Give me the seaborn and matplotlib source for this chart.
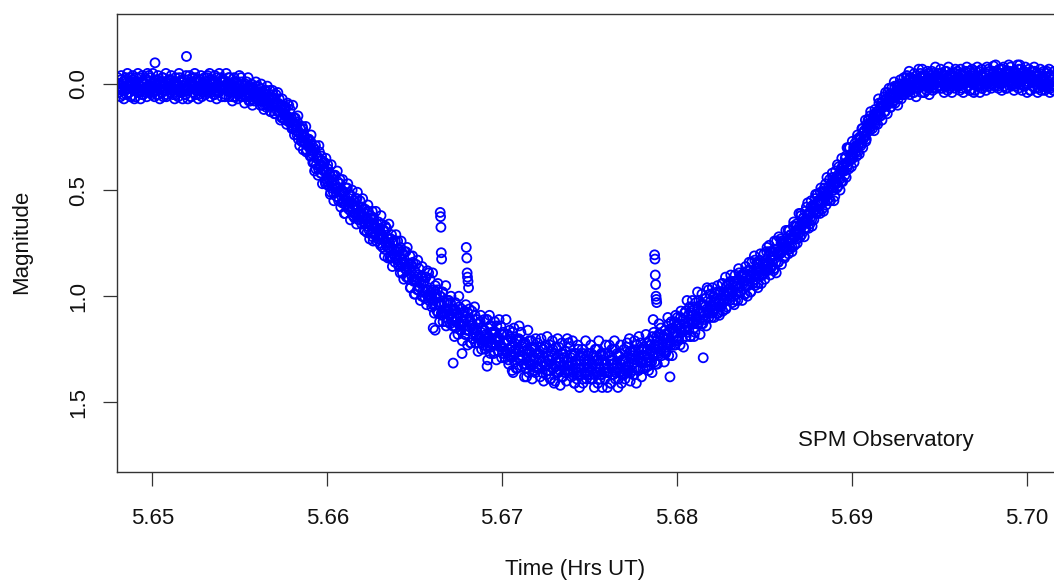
import matplotlib
matplotlib.use("Agg")
import matplotlib.pyplot as plt
import pandas as pd
import seaborn as sns

# ---- data (time in hours UT, magnitude) ----
# samples A
t_pre = [
5.64800,5.64805,5.64810,5.64815,5.64820,5.64825,5.64830,5.64835,5.64840,5.64845,5.64850,5.64855,5.64860,5.64865,5.64870,5.64875,5.64880,5.64885,5.64890,5.64895,
5.64900,5.64905,5.64910,5.64915,5.64920,5.64925,5.64930,5.64935,5.64940,5.64945,5.64950,5.64955,5.64960,5.64965,5.64970,5.64975,5.64980,5.64985,5.64990,5.64995,
5.65000,5.65005,5.65010,5.65015,5.65020,5.65025,5.65030,5.65035,5.65040,5.65045,5.65050,5.65055,5.65060,5.65065,5.65070,5.65075,5.65080,5.65085,5.65090,5.65095,
5.65100,5.65105,5.65110,5.65115,5.65120,5.65125,5.65130,5.65135,5.65140,5.65145,5.65150,5.65155,5.65160,5.65165,5.65170,5.65175,5.65180,5.65185,5.65190,5.65195,
5.65200,5.65205,5.65210,5.65215,5.65220,5.65225,5.65230,5.65235,5.65240,5.65245,5.65250,5.65255,5.65260,5.65265,5.65270,5.65275,5.65280,5.65285,5.65290,5.65295,
5.65300,5.65305,5.65310,5.65315,5.65320,5.65325,5.65330,5.65335,5.65340,5.65345,5.65350,5.65355,5.65360,5.65365,5.65370,5.65375,5.65380,5.65385,5.65390,5.65395,
5.65400,5.65405,5.65410,5.65415,5.65420,5.65425,5.65430,5.65435,5.65440,5.65445,5.65450,5.65455,5.65460,5.65465,5.65470,5.65475,5.65480,5.65485,5.65490,5.65495,
5.65500,5.65505,5.65510,5.65515,5.65520,5.65525,5.65530,5.65535,5.65540,5.65545,5.65550,5.65555,5.65560,5.65565,5.65570,5.65575,5.65580,5.65585,5.65590,5.65595]
m_pre = [
0.03,0.00,0.04,0.01,-0.02,0.02,0.05,-0.01,0.01,0.03,-0.03,0.02,0.04,0.00,0.01,0.06,-0.01,0.02,-0.02,0.03,
-0.01,0.02,0.01,0.04,0.00,-0.03,0.03,0.01,0.05,-0.01,0.02,0.00,0.04,-0.02,0.01,0.03,-0.04,0.02,0.03,0.00,
0.02,0.04,-0.01,-0.10,0.03,0.00,-0.02,0.05,0.02,-0.01,0.01,0.04,-0.03,0.03,0.00,0.02,0.06,-0.01,0.01,-0.02,
0.01,-0.02,0.03,0.02,0.00,0.04,-0.01,0.05,0.01,0.00,0.03,-0.03,0.02,0.04,-0.01,0.01,0.02,-0.02,0.05,-0.13,
0.03,-0.02,0.02,-0.01,0.06,0.01,0.00,0.04,0.02,-0.03,0.03,0.01,-0.01,0.05,0.02,-0.02,0.01,0.04,0.00,0.03,
0.00,0.03,0.02,-0.04,0.03,0.01,-0.02,0.04,0.00,0.02,-0.01,0.05,0.01,0.03,-0.03,0.00,0.04,0.01,0.02,-0.01,
-0.02,0.01,-0.01,0.06,0.02,0.00,0.03,-0.03,0.04,0.01,0.00,0.03,0.06,-0.01,0.01,0.04,0.02,0.00,0.05,0.03,
0.01,0.06,-0.01,0.03,0.03,0.01,0.06,0.04,-0.01,0.05,0.02,0.03,0.08,0.02,0.07,0.03,0.05,0.06,0.01,0.04]

t_ingress = [
5.65600,5.65605,5.65610,5.65615,5.65620,5.65625,5.65630,5.65635,5.65640,5.65645,5.65650,5.65655,5.65660,5.65665,5.65670,5.65675,5.65680,5.65685,5.65690,5.65695,
5.65700,5.65705,5.65710,5.65715,5.65720,5.65725,5.65730,5.65735,5.65740,5.65745,5.65750,5.65755,5.65760,5.65765,5.65770,5.65775,5.65780,5.65785,5.65790,5.65795,
5.65800,5.65805,5.65810,5.65815,5.65820,5.65825,5.65830,5.65835,5.65840,5.65845,5.65850,5.65855,5.65860,5.65865,5.65870,5.65875,5.65880,5.65885,5.65890,5.65895,
5.65900,5.65905,5.65910,5.65915,5.65920,5.65925,5.65930,5.65935,5.65940,5.65945,5.65950,5.65955,5.65960,5.65965,5.65970,5.65975,5.65980,5.65985,5.65990,5.65995,
5.66000,5.66005,5.66010,5.66015,5.66020,5.66025,5.66030,5.66035,5.66040,5.66045,5.66050,5.66055,5.66060,5.66065,5.66070,5.66075,5.66080,5.66085,5.66090,5.66095,
5.66100,5.66105,5.66110,5.66115,5.66120,5.66125,5.66130,5.66135,5.66140,5.66145,5.66150,5.66155,5.66160,5.66165,5.66170,5.66175,5.66180,5.66185,5.66190,5.66195,
5.66200,5.66205,5.66210,5.66215,5.66220,5.66225,5.66230,5.66235,5.66240,5.66245,5.66250,5.66255,5.66260,5.66265,5.66270,5.66275,5.66280,5.66285,5.66290,5.66295,
5.66300,5.66305,5.66310,5.66315,5.66320,5.66325,5.66330,5.66335,5.66340,5.66345,5.66350,5.66355,5.66360,5.66365,5.66370,5.66375,5.66380,5.66385,5.66390,5.66395,
5.66400,5.66405,5.66410,5.66415,5.66420,5.66425,5.66430,5.66435,5.66440,5.66445,5.66450,5.66455,5.66460,5.66465,5.66470,5.66475,5.66480,5.66485,5.66490,5.66495,
5.66500,5.66505,5.66510,5.66515,5.66520,5.66525,5.66530,5.66535,5.66540,5.66545,5.66550,5.66555,5.66560,5.66565,5.66570,5.66575,5.66580,5.66585,5.66590,5.66595,
5.66600,5.66605,5.66610,5.66615,5.66620,5.66625,5.66630,5.66635,5.66640,5.66645,5.66650,5.66655,5.66660,5.66665,5.66670,5.66675,5.66680,5.66685,5.66690,5.66695,
5.66700,5.66705,5.66710,5.66715,5.66720,5.66725,5.66730,5.66735,5.66740,5.66745,5.66750,5.66755,5.66760,5.66765,5.66770,5.66775,5.66780,5.66785,5.66790,5.66795,
5.66800,5.66805,5.66810,5.66815,5.66820,5.66825,5.66830,5.66835,5.66840,5.66845,5.66850,5.66855,5.66860,5.66865,5.66870,5.66875,5.66880,5.66885,5.66890,5.66895,
5.66900,5.66905,5.66910,5.66915,5.66920,5.66925,5.66930,5.66935,5.66940,5.66945,5.66950,5.66955,5.66960,5.66965,5.66970,5.66975,5.66980,5.66985,5.66990,5.66995]
m_ingress = [
0.07,0.04,0.08,0.05,0.02,0.07,0.10,0.04,0.06,0.08,0.03,0.08,0.10,0.06,0.07,0.13,0.06,0.09,0.05,0.10,
0.07,0.10,0.09,0.13,0.09,0.07,0.13,0.12,0.16,0.10,0.14,0.12,0.17,0.11,0.15,0.17,0.10,0.17,0.18,0.16,
0.18,0.21,0.16,0.19,0.22,0.19,0.18,0.26,0.23,0.21,0.24,0.27,0.21,0.27,0.25,0.28,0.32,0.26,0.29,0.26,
0.30,0.27,0.34,0.33,0.32,0.37,0.31,0.40,0.35,0.35,0.40,0.32,0.39,0.42,0.36,0.40,0.41,0.37,0.47,0.41,
0.46,0.40,0.45,0.42,0.51,0.46,0.45,0.51,0.48,0.43,0.51,0.49,0.46,0.55,0.51,0.47,0.51,0.56,0.51,0.56,
0.53,0.57,0.55,0.49,0.58,0.56,0.52,0.60,0.56,0.58,0.55,0.63,0.58,0.62,0.54,0.59,0.64,0.60,0.62,0.58,
0.58,0.62,0.59,0.69,0.64,0.63,0.67,0.60,0.69,0.65,0.63,0.67,0.72,0.63,0.67,0.71,0.68,0.66,0.73,0.71,
0.68,0.76,0.66,0.73,0.72,0.69,0.78,0.75,0.68,0.77,0.73,0.75,0.82,0.73,0.82,0.75,0.80,0.81,0.74,0.79,
0.83,0.78,0.86,0.81,0.77,0.84,0.89,0.80,0.84,0.87,0.79,0.88,0.91,0.85,0.87,0.96,0.85,0.91,0.84,0.93,
0.88,0.93,0.91,0.97,0.90,0.87,0.96,0.94,1.00,0.91,0.97,0.93,1.01,0.91,0.97,1.00,0.89,1.00,1.01,0.97,
1.01,1.04,0.97,1.00,1.04,0.99,0.97,1.08,1.04,1.00,1.03,1.09,0.98,1.08,1.03,1.07,1.14,1.03,1.07,1.02,
1.08,1.03,1.11,1.10,1.07,1.14,1.06,1.15,1.10,1.08,1.13,1.05,1.13,1.16,1.08,1.12,1.14,1.07,1.18,1.11,
1.16,1.08,1.16,1.11,1.22,1.14,1.13,1.20,1.17,1.09,1.19,1.16,1.13,1.22,1.19,1.12,1.17,1.22,1.16,1.21,
1.16,1.21,1.20,1.11,1.22,1.19,1.14,1.24,1.17,1.22,1.17,1.26,1.20,1.23,1.14,1.19,1.26,1.21,1.23,1.18]

t_minimum = [
5.67000,5.67005,5.67010,5.67015,5.67020,5.67025,5.67030,5.67035,5.67040,5.67045,5.67050,5.67055,5.67060,5.67065,5.67070,5.67075,5.67080,5.67085,5.67090,5.67095,
5.67100,5.67105,5.67110,5.67115,5.67120,5.67125,5.67130,5.67135,5.67140,5.67145,5.67150,5.67155,5.67160,5.67165,5.67170,5.67175,5.67180,5.67185,5.67190,5.67195,
5.67200,5.67205,5.67210,5.67215,5.67220,5.67225,5.67230,5.67235,5.67240,5.67245,5.67250,5.67255,5.67260,5.67265,5.67270,5.67275,5.67280,5.67285,5.67290,5.67295,
5.67300,5.67305,5.67310,5.67315,5.67320,5.67325,5.67330,5.67335,5.67340,5.67345,5.67350,5.67355,5.67360,5.67365,5.67370,5.67375,5.67380,5.67385,5.67390,5.67395,
5.67400,5.67405,5.67410,5.67415,5.67420,5.67425,5.67430,5.67435,5.67440,5.67445,5.67450,5.67455,5.67460,5.67465,5.67470,5.67475,5.67480,5.67485,5.67490,5.67495,
5.67500,5.67505,5.67510,5.67515,5.67520,5.67525,5.67530,5.67535,5.67540,5.67545,5.67550,5.67555,5.67560,5.67565,5.67570,5.67575,5.67580,5.67585,5.67590,5.67595,
5.67600,5.67605,5.67610,5.67615,5.67620,5.67625,5.67630,5.67635,5.67640,5.67645,5.67650,5.67655,5.67660,5.67665,5.67670,5.67675,5.67680,5.67685,5.67690,5.67695,
5.67700,5.67705,5.67710,5.67715,5.67720,5.67725,5.67730,5.67735,5.67740,5.67745,5.67750,5.67755,5.67760,5.67765,5.67770,5.67775,5.67780,5.67785,5.67790,5.67795]
m_minimum = [
1.24,1.27,1.18,1.22,1.26,1.21,1.18,1.30,1.25,1.19,1.24,1.29,1.17,1.28,1.22,1.27,1.34,1.21,1.25,1.20,
1.26,1.21,1.30,1.28,1.24,1.32,1.23,1.34,1.27,1.25,1.31,1.21,1.30,1.33,1.24,1.28,1.30,1.24,1.36,1.27,
1.33,1.27,1.34,1.29,1.24,1.31,1.36,1.25,1.29,1.33,1.23,1.32,1.35,1.28,1.30,1.39,1.26,1.32,1.25,1.34,
1.27,1.33,1.31,1.36,1.29,1.24,1.35,1.31,1.38,1.27,1.33,1.29,1.36,1.26,1.31,1.35,1.22,1.33,1.35,1.29,
1.27,1.32,1.28,1.41,1.34,1.30,1.36,1.25,1.37,1.32,1.28,1.34,1.39,1.27,1.30,1.36,1.32,1.28,1.37,1.34,
1.30,1.39,1.27,1.34,1.32,1.28,1.37,1.34,1.25,1.36,1.30,1.32,1.39,1.28,1.37,1.30,1.34,1.36,1.27,1.32,
1.36,1.27,1.34,1.28,1.41,1.32,1.30,1.37,1.34,1.25,1.36,1.32,1.28,1.39,1.34,1.27,1.32,1.37,1.30,1.36,
1.30,1.35,1.33,1.22,1.35,1.31,1.26,1.36,1.29,1.32,1.26,1.37,1.30,1.34,1.23,1.28,1.35,1.29,1.31,1.25]

t_egress = [
5.67800,5.67805,5.67810,5.67815,5.67820,5.67825,5.67830,5.67835,5.67840,5.67845,5.67850,5.67855,5.67860,5.67865,5.67870,5.67875,5.67880,5.67885,5.67890,5.67895,
5.67900,5.67905,5.67910,5.67915,5.67920,5.67925,5.67930,5.67935,5.67940,5.67945,5.67950,5.67955,5.67960,5.67965,5.67970,5.67975,5.67980,5.67985,5.67990,5.67995,
5.68000,5.68005,5.68010,5.68015,5.68020,5.68025,5.68030,5.68035,5.68040,5.68045,5.68050,5.68055,5.68060,5.68065,5.68070,5.68075,5.68080,5.68085,5.68090,5.68095,
5.68100,5.68105,5.68110,5.68115,5.68120,5.68125,5.68130,5.68135,5.68140,5.68145,5.68150,5.68155,5.68160,5.68165,5.68170,5.68175,5.68180,5.68185,5.68190,5.68195,
5.68200,5.68205,5.68210,5.68215,5.68220,5.68225,5.68230,5.68235,5.68240,5.68245,5.68250,5.68255,5.68260,5.68265,5.68270,5.68275,5.68280,5.68285,5.68290,5.68295,
5.68300,5.68305,5.68310,5.68315,5.68320,5.68325,5.68330,5.68335,5.68340,5.68345,5.68350,5.68355,5.68360,5.68365,5.68370,5.68375,5.68380,5.68385,5.68390,5.68395,
5.68400,5.68405,5.68410,5.68415,5.68420,5.68425,5.68430,5.68435,5.68440,5.68445,5.68450,5.68455,5.68460,5.68465,5.68470,5.68475,5.68480,5.68485,5.68490,5.68495,
5.68500,5.68505,5.68510,5.68515,5.68520,5.68525,5.68530,5.68535,5.68540,5.68545,5.68550,5.68555,5.68560,5.68565,5.68570,5.68575,5.68580,5.68585,5.68590,5.68595,
5.68600,5.68605,5.68610,5.68615,5.68620,5.68625,5.68630,5.68635,5.68640,5.68645,5.68650,5.68655,5.68660,5.68665,5.68670,5.68675,5.68680,5.68685,5.68690,5.68695,
5.68700,5.68705,5.68710,5.68715,5.68720,5.68725,5.68730,5.68735,5.68740,5.68745,5.68750,5.68755,5.68760,5.68765,5.68770,5.68775,5.68780,5.68785,5.68790,5.68795,
5.68800,5.68805,5.68810,5.68815,5.68820,5.68825,5.68830,5.68835,5.68840,5.68845,5.68850,5.68855,5.68860,5.68865,5.68870,5.68875,5.68880,5.68885,5.68890,5.68895,
5.68900,5.68905,5.68910,5.68915,5.68920,5.68925,5.68930,5.68935,5.68940,5.68945,5.68950,5.68955,5.68960,5.68965,5.68970,5.68975,5.68980,5.68985,5.68990,5.68995,
5.69000,5.69005,5.69010,5.69015,5.69020,5.69025,5.69030,5.69035,5.69040,5.69045,5.69050,5.69055,5.69060,5.69065,5.69070,5.69075,5.69080,5.69085,5.69090,5.69095,
5.69100,5.69105,5.69110,5.69115,5.69120,5.69125,5.69130,5.69135,5.69140,5.69145,5.69150,5.69155,5.69160,5.69165,5.69170,5.69175,5.69180,5.69185,5.69190,5.69195,
5.69200,5.69205,5.69210,5.69215,5.69220,5.69225,5.69230,5.69235,5.69240,5.69245,5.69250,5.69255,5.69260,5.69265,5.69270,5.69275,5.69280,5.69285,5.69290,5.69295,
5.69300,5.69305,5.69310,5.69315,5.69320,5.69325,5.69330,5.69335,5.69340,5.69345,5.69350,5.69355,5.69360,5.69365,5.69370,5.69375,5.69380,5.69385,5.69390,5.69395]
m_egress = [
1.31,1.34,1.25,1.28,1.31,1.26,1.22,1.33,1.29,1.23,1.26,1.31,1.19,1.28,1.23,1.27,1.32,1.21,1.24,1.18,
1.23,1.18,1.25,1.24,1.20,1.26,1.18,1.27,1.20,1.18,1.23,1.13,1.21,1.23,1.15,1.18,1.19,1.12,1.23,1.14,
1.19,1.14,1.20,1.15,1.10,1.16,1.20,1.11,1.13,1.16,1.07,1.14,1.17,1.09,1.11,1.19,1.07,1.12,1.05,1.12,
1.06,1.11,1.09,1.13,1.06,1.02,1.11,1.07,1.13,1.04,1.08,1.04,1.11,1.01,1.06,1.08,0.97,1.07,1.08,1.02,
1.05,1.08,1.00,1.03,1.06,1.01,0.98,1.08,1.02,0.98,1.01,1.04,0.94,1.03,0.98,1.00,1.06,0.95,0.98,0.94,
0.98,0.93,1.00,0.98,0.95,1.00,0.93,1.02,0.95,0.94,0.98,0.89,0.95,0.98,0.91,0.93,0.94,0.89,0.99,0.91,
0.95,0.88,0.92,0.88,0.98,0.90,0.89,0.94,0.90,0.83,0.92,0.88,0.85,0.94,0.88,0.83,0.87,0.90,0.85,0.89,
0.85,0.88,0.86,0.77,0.87,0.84,0.79,0.87,0.82,0.83,0.79,0.87,0.81,0.84,0.74,0.79,0.84,0.79,0.80,0.75,
0.74,0.78,0.75,0.82,0.77,0.74,0.77,0.69,0.78,0.73,0.71,0.73,0.77,0.67,0.70,0.72,0.70,0.67,0.73,0.69,
0.67,0.72,0.62,0.67,0.65,0.63,0.68,0.65,0.58,0.65,0.61,0.62,0.66,0.58,0.64,0.58,0.60,0.60,0.54,0.57,
0.59,0.55,0.60,0.55,0.51,0.55,0.59,0.51,0.53,0.54,0.47,0.52,0.55,0.49,0.50,0.55,0.47,0.49,0.44,0.50,
0.45,0.47,0.46,0.49,0.43,0.39,0.45,0.42,0.46,0.39,0.41,0.38,0.43,0.34,0.37,0.39,0.30,0.36,0.36,0.33,
0.34,0.35,0.30,0.31,0.32,0.29,0.26,0.32,0.28,0.25,0.26,0.28,0.21,0.26,0.22,0.24,0.27,0.19,0.20,0.17,
0.19,0.15,0.20,0.18,0.16,0.19,0.14,0.19,0.14,0.13,0.15,0.09,0.13,0.15,0.09,0.10,0.11,0.06,0.13,0.07,
0.10,0.04,0.08,0.05,0.11,0.06,0.05,0.08,0.06,0.01,0.06,0.04,0.02,0.07,0.04,0.00,0.02,0.05,0.01,0.03,
0.00,0.03,0.02,-0.04,0.03,0.00,-0.03,0.03,-0.01,0.01,-0.02,0.04,0.00,0.02,-0.04,-0.02,0.02,-0.01,0.00,-0.03]

t_post = [
5.69400,5.69405,5.69410,5.69415,5.69420,5.69425,5.69430,5.69435,5.69440,5.69445,5.69450,5.69455,5.69460,5.69465,5.69470,5.69475,5.69480,5.69485,5.69490,5.69495,
5.69500,5.69505,5.69510,5.69515,5.69520,5.69525,5.69530,5.69535,5.69540,5.69545,5.69550,5.69555,5.69560,5.69565,5.69570,5.69575,5.69580,5.69585,5.69590,5.69595,
5.69600,5.69605,5.69610,5.69615,5.69620,5.69625,5.69630,5.69635,5.69640,5.69645,5.69650,5.69655,5.69660,5.69665,5.69670,5.69675,5.69680,5.69685,5.69690,5.69695,
5.69700,5.69705,5.69710,5.69715,5.69720,5.69725,5.69730,5.69735,5.69740,5.69745,5.69750,5.69755,5.69760,5.69765,5.69770,5.69775,5.69780,5.69785,5.69790,5.69795,
5.69800,5.69805,5.69810,5.69815,5.69820,5.69825,5.69830,5.69835,5.69840,5.69845,5.69850,5.69855,5.69860,5.69865,5.69870,5.69875,5.69880,5.69885,5.69890,5.69895,
5.69900,5.69905,5.69910,5.69915,5.69920,5.69925,5.69930,5.69935,5.69940,5.69945,5.69950,5.69955,5.69960,5.69965,5.69970,5.69975,5.69980,5.69985,5.69990,5.69995,
5.70000,5.70005,5.70010,5.70015,5.70020,5.70025,5.70030,5.70035,5.70040,5.70045,5.70050,5.70055,5.70060,5.70065,5.70070,5.70075,5.70080,5.70085,5.70090,5.70095,
5.70100,5.70105,5.70110,5.70115,5.70120,5.70125,5.70130,5.70135,5.70140,5.70145,5.70150,5.70155,5.70160]
m_post = [
-0.04,-0.01,-0.03,0.04,0.00,-0.02,0.01,-0.05,0.02,-0.01,-0.04,-0.01,0.02,-0.05,-0.03,0.00,-0.02,-0.04,0.01,-0.01,
-0.03,0.02,-0.05,-0.01,-0.02,-0.04,0.01,-0.01,-0.06,0.00,-0.03,-0.02,0.02,-0.04,0.01,-0.03,-0.01,0.00,-0.05,-0.02,
0.00,-0.03,0.01,-0.02,-0.05,-0.01,0.02,-0.04,-0.02,0.00,-0.06,-0.01,0.01,-0.03,-0.02,0.03,-0.04,-0.01,-0.05,0.00,
-0.04,-0.01,-0.02,0.01,-0.03,-0.06,0.00,-0.02,0.02,-0.04,-0.01,-0.03,0.01,-0.05,-0.02,0.00,-0.07,-0.01,0.00,-0.03,
-0.02,0.00,-0.05,-0.03,-0.01,-0.04,-0.06,0.01,-0.02,-0.05,-0.03,0.00,-0.07,-0.01,-0.04,-0.02,0.02,-0.05,-0.03,-0.06,
-0.03,-0.06,-0.01,-0.02,-0.04,0.00,-0.05,0.01,-0.03,-0.04,-0.01,-0.07,-0.02,0.00,-0.05,-0.03,-0.02,-0.06,0.01,-0.04,
0.00,-0.05,-0.01,-0.04,0.03,-0.02,-0.03,0.01,-0.01,-0.06,0.00,-0.02,-0.04,0.02,-0.01,-0.05,-0.02,0.01,-0.03,0.00,
-0.02,0.01,0.00,-0.06,0.01,-0.01,-0.04,0.02,-0.02,0.00,-0.03,0.03,-0.01]

# samples B (interleaved exposures)
t_pre_b = [
5.648025,5.648075,5.648125,5.648175,5.648225,5.648275,5.648325,5.648375,5.648425,5.648475,5.648525,5.648575,5.648625,5.648675,5.648725,5.648775,5.648825,5.648875,5.648925,5.648975,
5.649025,5.649075,5.649125,5.649175,5.649225,5.649275,5.649325,5.649375,5.649425,5.649475,5.649525,5.649575,5.649625,5.649675,5.649725,5.649775,5.649825,5.649875,5.649925,5.649975,
5.650025,5.650075,5.650125,5.650175,5.650225,5.650275,5.650325,5.650375,5.650425,5.650475,5.650525,5.650575,5.650625,5.650675,5.650725,5.650775,5.650825,5.650875,5.650925,5.650975,
5.651025,5.651075,5.651125,5.651175,5.651225,5.651275,5.651325,5.651375,5.651425,5.651475,5.651525,5.651575,5.651625,5.651675,5.651725,5.651775,5.651825,5.651875,5.651925,5.651975,
5.652025,5.652075,5.652125,5.652175,5.652225,5.652275,5.652325,5.652375,5.652425,5.652475,5.652525,5.652575,5.652625,5.652675,5.652725,5.652775,5.652825,5.652875,5.652925,5.652975,
5.653025,5.653075,5.653125,5.653175,5.653225,5.653275,5.653325,5.653375,5.653425,5.653475,5.653525,5.653575,5.653625,5.653675,5.653725,5.653775,5.653825,5.653875,5.653925,5.653975,
5.654025,5.654075,5.654125,5.654175,5.654225,5.654275,5.654325,5.654375,5.654425,5.654475,5.654525,5.654575,5.654625,5.654675,5.654725,5.654775,5.654825,5.654875,5.654925,5.654975,
5.655025,5.655075,5.655125,5.655175,5.655225,5.655275,5.655325,5.655375,5.655425,5.655475,5.655525,5.655575,5.655625,5.655675,5.655725,5.655775,5.655825,5.655875,5.655925,5.655975]
m_pre_b = [
-0.03,0.04,0.00,0.06,-0.04,0.03,-0.01,0.07,-0.02,0.02,0.05,-0.05,0.01,0.04,-0.03,0.06,0.00,-0.04,0.03,0.07,
0.06,-0.03,0.02,-0.05,0.04,0.01,0.07,-0.01,-0.04,0.05,0.00,0.03,-0.02,0.06,-0.05,0.02,0.04,-0.03,0.01,0.05,
-0.05,0.03,0.06,-0.02,0.01,0.05,-0.04,0.02,0.07,-0.01,0.04,-0.03,0.06,0.00,0.03,-0.05,0.05,0.01,-0.02,0.02,
0.04,-0.04,0.01,0.05,-0.01,0.07,-0.03,0.03,0.00,0.06,-0.05,0.02,0.04,-0.02,0.07,-0.01,0.01,0.05,-0.04,0.03,
0.07,0.03,-0.04,0.00,0.06,-0.03,0.04,0.01,-0.05,0.05,0.02,-0.02,0.07,-0.01,0.03,-0.04,0.06,0.00,0.04,-0.03,
0.05,0.01,-0.03,0.04,0.02,-0.05,0.06,-0.02,0.03,0.00,0.05,-0.04,-0.01,0.07,0.01,0.04,-0.05,0.02,-0.03,0.06,
0.02,-0.02,0.01,0.05,-0.05,0.03,0.00,0.06,-0.03,0.04,0.00,0.08,0.03,-0.03,0.06,0.02,-0.01,0.07,0.04,-0.04,
0.04,-0.03,0.06,0.02,0.01,0.09,0.00,0.06,0.04,-0.03,0.08,0.02,0.06,0.00,0.10,0.02,0.08,0.04,-0.01,0.07]

t_ingress_b = [
5.656025,5.656075,5.656125,5.656175,5.656225,5.656275,5.656325,5.656375,5.656425,5.656475,5.656525,5.656575,5.656625,5.656675,5.656725,5.656775,5.656825,5.656875,5.656925,5.656975,
5.657025,5.657075,5.657125,5.657175,5.657225,5.657275,5.657325,5.657375,5.657425,5.657475,5.657525,5.657575,5.657625,5.657675,5.657725,5.657775,5.657825,5.657875,5.657925,5.657975,
5.658025,5.658075,5.658125,5.658175,5.658225,5.658275,5.658325,5.658375,5.658425,5.658475,5.658525,5.658575,5.658625,5.658675,5.658725,5.658775,5.658825,5.658875,5.658925,5.658975,
5.659025,5.659075,5.659125,5.659175,5.659225,5.659275,5.659325,5.659375,5.659425,5.659475,5.659525,5.659575,5.659625,5.659675,5.659725,5.659775,5.659825,5.659875,5.659925,5.659975,
5.660025,5.660075,5.660125,5.660175,5.660225,5.660275,5.660325,5.660375,5.660425,5.660475,5.660525,5.660575,5.660625,5.660675,5.660725,5.660775,5.660825,5.660875,5.660925,5.660975,
5.661025,5.661075,5.661125,5.661175,5.661225,5.661275,5.661325,5.661375,5.661425,5.661475,5.661525,5.661575,5.661625,5.661675,5.661725,5.661775,5.661825,5.661875,5.661925,5.661975,
5.662025,5.662075,5.662125,5.662175,5.662225,5.662275,5.662325,5.662375,5.662425,5.662475,5.662525,5.662575,5.662625,5.662675,5.662725,5.662775,5.662825,5.662875,5.662925,5.662975,
5.663025,5.663075,5.663125,5.663175,5.663225,5.663275,5.663325,5.663375,5.663425,5.663475,5.663525,5.663575,5.663625,5.663675,5.663725,5.663775,5.663825,5.663875,5.663925,5.663975,
5.664025,5.664075,5.664125,5.664175,5.664225,5.664275,5.664325,5.664375,5.664425,5.664475,5.664525,5.664575,5.664625,5.664675,5.664725,5.664775,5.664825,5.664875,5.664925,5.664975,
5.665025,5.665075,5.665125,5.665175,5.665225,5.665275,5.665325,5.665375,5.665425,5.665475,5.665525,5.665575,5.665625,5.665675,5.665725,5.665775,5.665825,5.665875,5.665925,5.665975,
5.666025,5.666075,5.666125,5.666175,5.666225,5.666275,5.666325,5.666375,5.666425,5.666475,5.666525,5.666575,5.666625,5.666675,5.666725,5.666775,5.666825,5.666875,5.666925,5.666975,
5.667025,5.667075,5.667125,5.667175,5.667225,5.667275,5.667325,5.667375,5.667425,5.667475,5.667525,5.667575,5.667625,5.667675,5.667725,5.667775,5.667825,5.667875,5.667925,5.667975,
5.668025,5.668075,5.668125,5.668175,5.668225,5.668275,5.668325,5.668375,5.668425,5.668475,5.668525,5.668575,5.668625,5.668675,5.668725,5.668775,5.668825,5.668875,5.668925,5.668975,
5.669025,5.669075,5.669125,5.669175,5.669225,5.669275,5.669325,5.669375,5.669425,5.669475,5.669525,5.669575,5.669625,5.669675,5.669725,5.669775,5.669825,5.669875,5.669925,5.669975]
m_ingress_b = [
0.01,0.08,0.04,0.10,0.00,0.08,0.04,0.12,0.03,0.07,0.11,0.01,0.07,0.10,0.03,0.13,0.07,0.03,0.10,0.14,
0.14,0.05,0.10,0.04,0.13,0.11,0.17,0.10,0.07,0.16,0.12,0.15,0.11,0.19,0.09,0.16,0.18,0.12,0.16,0.21,
0.10,0.20,0.24,0.16,0.20,0.24,0.15,0.23,0.29,0.21,0.27,0.20,0.31,0.24,0.28,0.20,0.31,0.28,0.26,0.30,
0.34,0.24,0.31,0.37,0.30,0.41,0.29,0.38,0.34,0.43,0.29,0.38,0.42,0.34,0.47,0.37,0.40,0.46,0.35,0.45,
0.38,0.48,0.43,0.52,0.38,0.49,0.43,0.55,0.43,0.49,0.53,0.41,0.49,0.54,0.45,0.58,0.50,0.45,0.55,0.61,
0.61,0.49,0.55,0.47,0.59,0.56,0.64,0.53,0.50,0.62,0.57,0.61,0.54,0.66,0.51,0.61,0.64,0.55,0.61,0.66,
0.54,0.65,0.69,0.59,0.63,0.70,0.57,0.66,0.73,0.62,0.70,0.60,0.74,0.66,0.71,0.60,0.74,0.69,0.65,0.71,
0.75,0.62,0.71,0.77,0.69,0.81,0.67,0.76,0.72,0.82,0.66,0.77,0.81,0.71,0.86,0.74,0.78,0.84,0.71,0.82,
0.74,0.85,0.79,0.89,0.74,0.85,0.80,0.92,0.79,0.86,0.91,0.77,0.86,0.92,0.81,0.96,0.86,0.81,0.92,0.99,
0.99,0.85,0.93,0.83,0.97,0.93,1.02,0.91,0.86,1.00,0.93,0.98,0.91,1.04,0.88,0.99,1.02,0.92,0.98,1.05,
0.89,1.02,1.08,0.95,1.01,1.07,0.94,1.04,1.12,1.00,1.08,0.98,1.12,1.03,1.08,0.95,1.12,1.06,1.02,1.09,
1.13,1.00,1.08,1.14,1.06,1.19,1.03,1.12,1.08,1.18,1.00,1.13,1.16,1.06,1.21,1.09,1.12,1.18,1.04,1.16,
1.23,1.16,1.06,1.12,1.22,1.07,1.20,1.15,1.05,1.22,1.18,1.11,1.26,1.13,1.20,1.09,1.25,1.15,1.23,1.11,
1.25,1.18,1.11,1.24,1.21,1.09,1.27,1.14,1.22,1.18,1.27,1.12,1.17,1.30,1.20,1.26,1.11,1.23,1.14,1.29]

t_minimum_b = [
5.670025,5.670075,5.670125,5.670175,5.670225,5.670275,5.670325,5.670375,5.670425,5.670475,5.670525,5.670575,5.670625,5.670675,5.670725,5.670775,5.670825,5.670875,5.670925,5.670975,
5.671025,5.671075,5.671125,5.671175,5.671225,5.671275,5.671325,5.671375,5.671425,5.671475,5.671525,5.671575,5.671625,5.671675,5.671725,5.671775,5.671825,5.671875,5.671925,5.671975,
5.672025,5.672075,5.672125,5.672175,5.672225,5.672275,5.672325,5.672375,5.672425,5.672475,5.672525,5.672575,5.672625,5.672675,5.672725,5.672775,5.672825,5.672875,5.672925,5.672975,
5.673025,5.673075,5.673125,5.673175,5.673225,5.673275,5.673325,5.673375,5.673425,5.673475,5.673525,5.673575,5.673625,5.673675,5.673725,5.673775,5.673825,5.673875,5.673925,5.673975,
5.674025,5.674075,5.674125,5.674175,5.674225,5.674275,5.674325,5.674375,5.674425,5.674475,5.674525,5.674575,5.674625,5.674675,5.674725,5.674775,5.674825,5.674875,5.674925,5.674975,
5.675025,5.675075,5.675125,5.675175,5.675225,5.675275,5.675325,5.675375,5.675425,5.675475,5.675525,5.675575,5.675625,5.675675,5.675725,5.675775,5.675825,5.675875,5.675925,5.675975,
5.676025,5.676075,5.676125,5.676175,5.676225,5.676275,5.676325,5.676375,5.676425,5.676475,5.676525,5.676575,5.676625,5.676675,5.676725,5.676775,5.676825,5.676875,5.676925,5.676975,
5.677025,5.677075,5.677125,5.677175,5.677225,5.677275,5.677325,5.677375,5.677425,5.677475,5.677525,5.677575,5.677625,5.677675,5.677725,5.677775,5.677825,5.677875,5.677925,5.677975]
m_minimum_b = [
1.24,1.17,1.22,1.29,1.11,1.27,1.21,1.32,1.16,1.28,1.20,1.35,1.26,1.15,1.31,1.25,1.20,1.34,1.29,1.14,
1.30,1.17,1.33,1.26,1.22,1.38,1.22,1.32,1.29,1.16,1.36,1.26,1.32,1.21,1.39,1.24,1.35,1.29,1.20,1.34,
1.22,1.34,1.27,1.38,1.20,1.33,1.25,1.40,1.24,1.31,1.37,1.19,1.30,1.35,1.23,1.39,1.28,1.21,1.34,1.41,
1.40,1.24,1.33,1.20,1.36,1.31,1.42,1.27,1.22,1.38,1.29,1.35,1.26,1.40,1.20,1.33,1.36,1.24,1.31,1.38,
1.21,1.36,1.41,1.27,1.32,1.39,1.23,1.34,1.43,1.28,1.37,1.25,1.41,1.30,1.36,1.21,1.39,1.32,1.27,1.34,
1.37,1.23,1.32,1.39,1.28,1.43,1.25,1.36,1.30,1.41,1.21,1.34,1.37,1.27,1.43,1.28,1.32,1.39,1.23,1.36,
1.43,1.36,1.23,1.30,1.41,1.25,1.37,1.32,1.21,1.39,1.34,1.27,1.43,1.28,1.36,1.23,1.41,1.30,1.37,1.25,
1.39,1.31,1.24,1.36,1.33,1.20,1.40,1.26,1.35,1.28,1.37,1.21,1.26,1.41,1.30,1.35,1.19,1.31,1.22,1.38]

t_egress_b = [
5.678025,5.678075,5.678125,5.678175,5.678225,5.678275,5.678325,5.678375,5.678425,5.678475,5.678525,5.678575,5.678625,5.678675,5.678725,5.678775,5.678825,5.678875,5.678925,5.678975,
5.679025,5.679075,5.679125,5.679175,5.679225,5.679275,5.679325,5.679375,5.679425,5.679475,5.679525,5.679575,5.679625,5.679675,5.679725,5.679775,5.679825,5.679875,5.679925,5.679975,
5.680025,5.680075,5.680125,5.680175,5.680225,5.680275,5.680325,5.680375,5.680425,5.680475,5.680525,5.680575,5.680625,5.680675,5.680725,5.680775,5.680825,5.680875,5.680925,5.680975,
5.681025,5.681075,5.681125,5.681175,5.681225,5.681275,5.681325,5.681375,5.681425,5.681475,5.681525,5.681575,5.681625,5.681675,5.681725,5.681775,5.681825,5.681875,5.681925,5.681975,
5.682025,5.682075,5.682125,5.682175,5.682225,5.682275,5.682325,5.682375,5.682425,5.682475,5.682525,5.682575,5.682625,5.682675,5.682725,5.682775,5.682825,5.682875,5.682925,5.682975,
5.683025,5.683075,5.683125,5.683175,5.683225,5.683275,5.683325,5.683375,5.683425,5.683475,5.683525,5.683575,5.683625,5.683675,5.683725,5.683775,5.683825,5.683875,5.683925,5.683975,
5.684025,5.684075,5.684125,5.684175,5.684225,5.684275,5.684325,5.684375,5.684425,5.684475,5.684525,5.684575,5.684625,5.684675,5.684725,5.684775,5.684825,5.684875,5.684925,5.684975,
5.685025,5.685075,5.685125,5.685175,5.685225,5.685275,5.685325,5.685375,5.685425,5.685475,5.685525,5.685575,5.685625,5.685675,5.685725,5.685775,5.685825,5.685875,5.685925,5.685975,
5.686025,5.686075,5.686125,5.686175,5.686225,5.686275,5.686325,5.686375,5.686425,5.686475,5.686525,5.686575,5.686625,5.686675,5.686725,5.686775,5.686825,5.686875,5.686925,5.686975,
5.687025,5.687075,5.687125,5.687175,5.687225,5.687275,5.687325,5.687375,5.687425,5.687475,5.687525,5.687575,5.687625,5.687675,5.687725,5.687775,5.687825,5.687875,5.687925,5.687975,
5.688025,5.688075,5.688125,5.688175,5.688225,5.688275,5.688325,5.688375,5.688425,5.688475,5.688525,5.688575,5.688625,5.688675,5.688725,5.688775,5.688825,5.688875,5.688925,5.688975,
5.689025,5.689075,5.689125,5.689175,5.689225,5.689275,5.689325,5.689375,5.689425,5.689475,5.689525,5.689575,5.689625,5.689675,5.689725,5.689775,5.689825,5.689875,5.689925,5.689975,
5.690025,5.690075,5.690125,5.690175,5.690225,5.690275,5.690325,5.690375,5.690425,5.690475,5.690525,5.690575,5.690625,5.690675,5.690725,5.690775,5.690825,5.690875,5.690925,5.690975,
5.691025,5.691075,5.691125,5.691175,5.691225,5.691275,5.691325,5.691375,5.691425,5.691475,5.691525,5.691575,5.691625,5.691675,5.691725,5.691775,5.691825,5.691875,5.691925,5.691975,
5.692025,5.692075,5.692125,5.692175,5.692225,5.692275,5.692325,5.692375,5.692425,5.692475,5.692525,5.692575,5.692625,5.692675,5.692725,5.692775,5.692825,5.692875,5.692925,5.692975,
5.693025,5.693075,5.693125,5.693175,5.693225,5.693275,5.693325,5.693375,5.693425,5.693475,5.693525,5.693575,5.693625,5.693675,5.693725,5.693775,5.693825,5.693875,5.693925,5.693975]
m_egress_b = [
1.31,1.24,1.28,1.34,1.18,1.31,1.25,1.35,1.21,1.31,1.23,1.36,1.27,1.17,1.31,1.25,1.19,1.32,1.27,1.13,
1.26,1.15,1.28,1.22,1.19,1.31,1.16,1.26,1.22,1.10,1.28,1.17,1.22,1.12,1.28,1.15,1.23,1.17,1.09,1.21,
1.10,1.21,1.13,1.23,1.07,1.17,1.11,1.24,1.08,1.15,1.19,1.02,1.12,1.16,1.05,1.19,1.08,1.02,1.13,1.19,
1.17,1.03,1.11,0.98,1.13,1.08,1.18,1.04,0.99,1.13,1.04,1.09,1.01,1.14,0.96,1.07,1.10,0.99,1.05,1.10,
0.96,1.07,1.10,0.99,1.03,1.08,0.95,1.03,1.09,0.98,1.05,0.94,1.07,0.99,1.02,0.91,1.05,0.98,0.94,0.99,
1.02,0.90,0.97,1.03,0.93,1.04,0.90,0.99,0.94,1.02,0.87,0.96,0.98,0.90,1.02,0.90,0.93,0.99,0.86,0.95,
1.00,0.95,0.84,0.90,0.98,0.84,0.94,0.90,0.81,0.95,0.90,0.84,0.96,0.85,0.90,0.80,0.94,0.85,0.90,0.80,
0.92,0.85,0.79,0.88,0.85,0.76,0.90,0.79,0.86,0.81,0.88,0.74,0.78,0.89,0.80,0.84,0.72,0.80,0.73,0.85,
0.79,0.74,0.77,0.81,0.69,0.77,0.74,0.80,0.69,0.77,0.71,0.79,0.73,0.65,0.76,0.70,0.66,0.75,0.71,0.61,
0.70,0.61,0.71,0.66,0.63,0.72,0.60,0.68,0.64,0.56,0.68,0.61,0.63,0.55,0.67,0.57,0.64,0.58,0.52,0.61,
0.52,0.60,0.55,0.61,0.49,0.56,0.52,0.60,0.49,0.53,0.57,0.44,0.51,0.54,0.45,0.55,0.48,0.42,0.50,0.55,
0.53,0.41,0.47,0.38,0.48,0.44,0.50,0.40,0.35,0.46,0.39,0.41,0.35,0.44,0.30,0.38,0.40,0.30,0.34,0.39,
0.27,0.34,0.37,0.28,0.30,0.34,0.24,0.29,0.33,0.25,0.29,0.21,0.30,0.23,0.25,0.17,0.26,0.21,0.17,0.21,
0.22,0.13,0.18,0.21,0.15,0.22,0.12,0.17,0.13,0.19,0.07,0.14,0.15,0.09,0.17,0.08,0.10,0.13,0.04,0.10,
0.14,0.09,0.02,0.06,0.11,0.02,0.09,0.05,-0.01,0.09,0.05,0.01,0.10,0.01,0.05,-0.02,0.07,0.01,0.05,-0.03,
0.05,0.01,-0.03,0.04,0.02,-0.06,0.05,-0.03,0.02,-0.01,0.04,-0.05,-0.02,0.06,0.00,0.02,-0.07,0.00,-0.05,0.04]

t_post_b = [
5.694025,5.694075,5.694125,5.694175,5.694225,5.694275,5.694325,5.694375,5.694425,5.694475,5.694525,5.694575,5.694625,5.694675,5.694725,5.694775,5.694825,5.694875,5.694925,5.694975,
5.695025,5.695075,5.695125,5.695175,5.695225,5.695275,5.695325,5.695375,5.695425,5.695475,5.695525,5.695575,5.695625,5.695675,5.695725,5.695775,5.695825,5.695875,5.695925,5.695975,
5.696025,5.696075,5.696125,5.696175,5.696225,5.696275,5.696325,5.696375,5.696425,5.696475,5.696525,5.696575,5.696625,5.696675,5.696725,5.696775,5.696825,5.696875,5.696925,5.696975,
5.697025,5.697075,5.697125,5.697175,5.697225,5.697275,5.697325,5.697375,5.697425,5.697475,5.697525,5.697575,5.697625,5.697675,5.697725,5.697775,5.697825,5.697875,5.697925,5.697975,
5.698025,5.698075,5.698125,5.698175,5.698225,5.698275,5.698325,5.698375,5.698425,5.698475,5.698525,5.698575,5.698625,5.698675,5.698725,5.698775,5.698825,5.698875,5.698925,5.698975,
5.699025,5.699075,5.699125,5.699175,5.699225,5.699275,5.699325,5.699375,5.699425,5.699475,5.699525,5.699575,5.699625,5.699675,5.699725,5.699775,5.699825,5.699875,5.699925,5.699975,
5.700025,5.700075,5.700125,5.700175,5.700225,5.700275,5.700325,5.700375,5.700425,5.700475,5.700525,5.700575,5.700625,5.700675,5.700725,5.700775,5.700825,5.700875,5.700925,5.700975,
5.701025,5.701075,5.701125,5.701175,5.701225,5.701275,5.701325,5.701375,5.701425,5.701475,5.701525,5.701575]
m_post_b = [
-0.07,0.01,0.04,-0.04,-0.01,0.03,-0.06,0.00,0.05,-0.03,0.01,-0.06,0.03,-0.03,0.00,-0.08,0.02,-0.02,-0.05,-0.01,
0.01,-0.07,-0.02,0.02,-0.04,0.04,-0.06,0.00,-0.03,0.03,-0.08,-0.01,0.01,-0.05,0.04,-0.04,-0.02,0.02,-0.07,0.00,
-0.06,0.01,-0.03,0.03,-0.07,0.00,-0.04,0.04,-0.05,-0.01,0.02,-0.08,-0.02,0.01,-0.06,0.03,-0.03,-0.07,0.00,0.04,
0.03,-0.06,-0.01,-0.08,0.01,-0.02,0.04,-0.04,-0.07,0.02,-0.03,0.00,-0.05,0.03,-0.08,-0.01,0.01,-0.06,-0.02,0.02,
-0.02,-0.06,-0.03,0.01,-0.09,-0.01,-0.04,0.02,-0.07,0.00,-0.05,0.03,-0.02,-0.08,0.01,-0.03,-0.06,0.02,-0.01,-0.09,
-0.01,-0.08,0.01,-0.03,-0.05,0.03,-0.06,0.00,-0.02,-0.09,0.02,-0.04,-0.01,-0.07,0.03,-0.05,0.01,-0.03,-0.08,0.00,
0.04,0.00,-0.07,-0.03,0.03,-0.06,0.01,-0.02,-0.08,0.02,-0.01,-0.05,0.04,-0.04,0.00,-0.07,0.03,-0.03,0.01,-0.06,
0.03,-0.01,-0.05,0.02,0.00,-0.07,0.04,-0.04,0.01,-0.02,0.03,-0.06]

# short brightenings (vertical columns of points)
t_flare = [5.66646, 5.66648, 5.66650, 5.66652, 5.66654,
           5.66795, 5.66798, 5.66800, 5.66802, 5.66805, 5.66808,
           5.67872, 5.67874, 5.67876, 5.67878, 5.67880, 5.67882, 5.67884, 5.67864]
m_flare = [0.605, 0.625, 0.675, 0.795, 0.825,
           0.77, 0.82, 0.89, 0.91, 0.93, 0.96,
           0.805, 0.825, 0.90, 0.945, 1.00, 1.015, 1.03, 1.11]

# isolated stray points
t_stray = [5.66606, 5.66617, 5.66720, 5.66771, 5.66914, 5.66918,
           5.67063, 5.67140, 5.67960, 5.68150, 5.69810, 5.69960]
m_stray = [1.15, 1.16, 1.315, 1.27, 1.33, 1.30,
           1.36, 1.38, 1.38, 1.29, -0.085, -0.09]

x_ticks = [5.65, 5.66, 5.67, 5.68, 5.69, 5.70]
x_tick_labels = ["5.65", "5.66", "5.67", "5.68", "5.69", "5.70"]
y_ticks = [0.0, 0.5, 1.0, 1.5]
y_tick_labels = ["0.0", "0.5", "1.0", "1.5"]

# ---- build table ----
all_t = (t_pre + t_ingress + t_minimum + t_egress + t_post +
         t_pre_b + t_ingress_b + t_minimum_b + t_egress_b + t_post_b +
         t_flare + t_stray)
all_m = (m_pre + m_ingress + m_minimum + m_egress + m_post +
         m_pre_b + m_ingress_b + m_minimum_b + m_egress_b + m_post_b +
         m_flare + m_stray)
df = pd.DataFrame({"time": all_t, "mag": all_m}).sort_values("time")

sns.set_theme(style="white")
plt.rcParams["font.family"] = ["Liberation Sans", "DejaVu Sans"]

W, H = 1054, 581
fig = plt.figure(figsize=(W / 100, H / 100), dpi=100)
left_px, right_px, top_px, bot_px = 116.7, 1054.0, 14.0, 471.5
ax = fig.add_axes([left_px / W, 1 - bot_px / H, (right_px - left_px) / W, (bot_px - top_px) / H])

sns.scatterplot(data=df, x="time", y="mag", ax=ax, marker="o", s=42,
                facecolor="none", edgecolor="#0000FF", linewidth=1.3, legend=False)

ax.set_xlim(5.64796, 5.70156)
ax.set_ylim(1.826, -0.33)

ax.set_xticks(x_ticks)
ax.set_xticklabels(x_tick_labels)
ax.set_yticks(y_ticks)
ax.set_yticklabels(y_tick_labels, rotation=90, va="center")

ax.tick_params(axis="both", which="major", direction="out", length=10, width=0.9,
               color="#333333", labelsize=16, labelcolor="#111111",
               bottom=True, left=True, top=False, right=False)
ax.tick_params(axis="x", pad=16)
ax.tick_params(axis="y", pad=10)

for side in ["left", "top", "bottom"]:
    ax.spines[side].set_visible(True)
    ax.spines[side].set_color("#333333")
    ax.spines[side].set_linewidth(1.0)
ax.spines["right"].set_visible(False)
ax.grid(False)

ax.set_xlabel("")
ax.set_ylabel("")
fig.text(575 / W, 1 - 569 / H, "Time (Hrs UT)", ha="center", va="center",
         fontsize=16, color="#111111")
fig.text(22 / W, 1 - 242 / H, "Magnitude", ha="center", va="center",
         rotation=90, fontsize=16, color="#111111")

ax.text(5.69195, 1.682, "SPM Observatory", ha="center", va="center",
        fontsize=16, color="#111111")

fig.savefig("out.png", dpi=100)
